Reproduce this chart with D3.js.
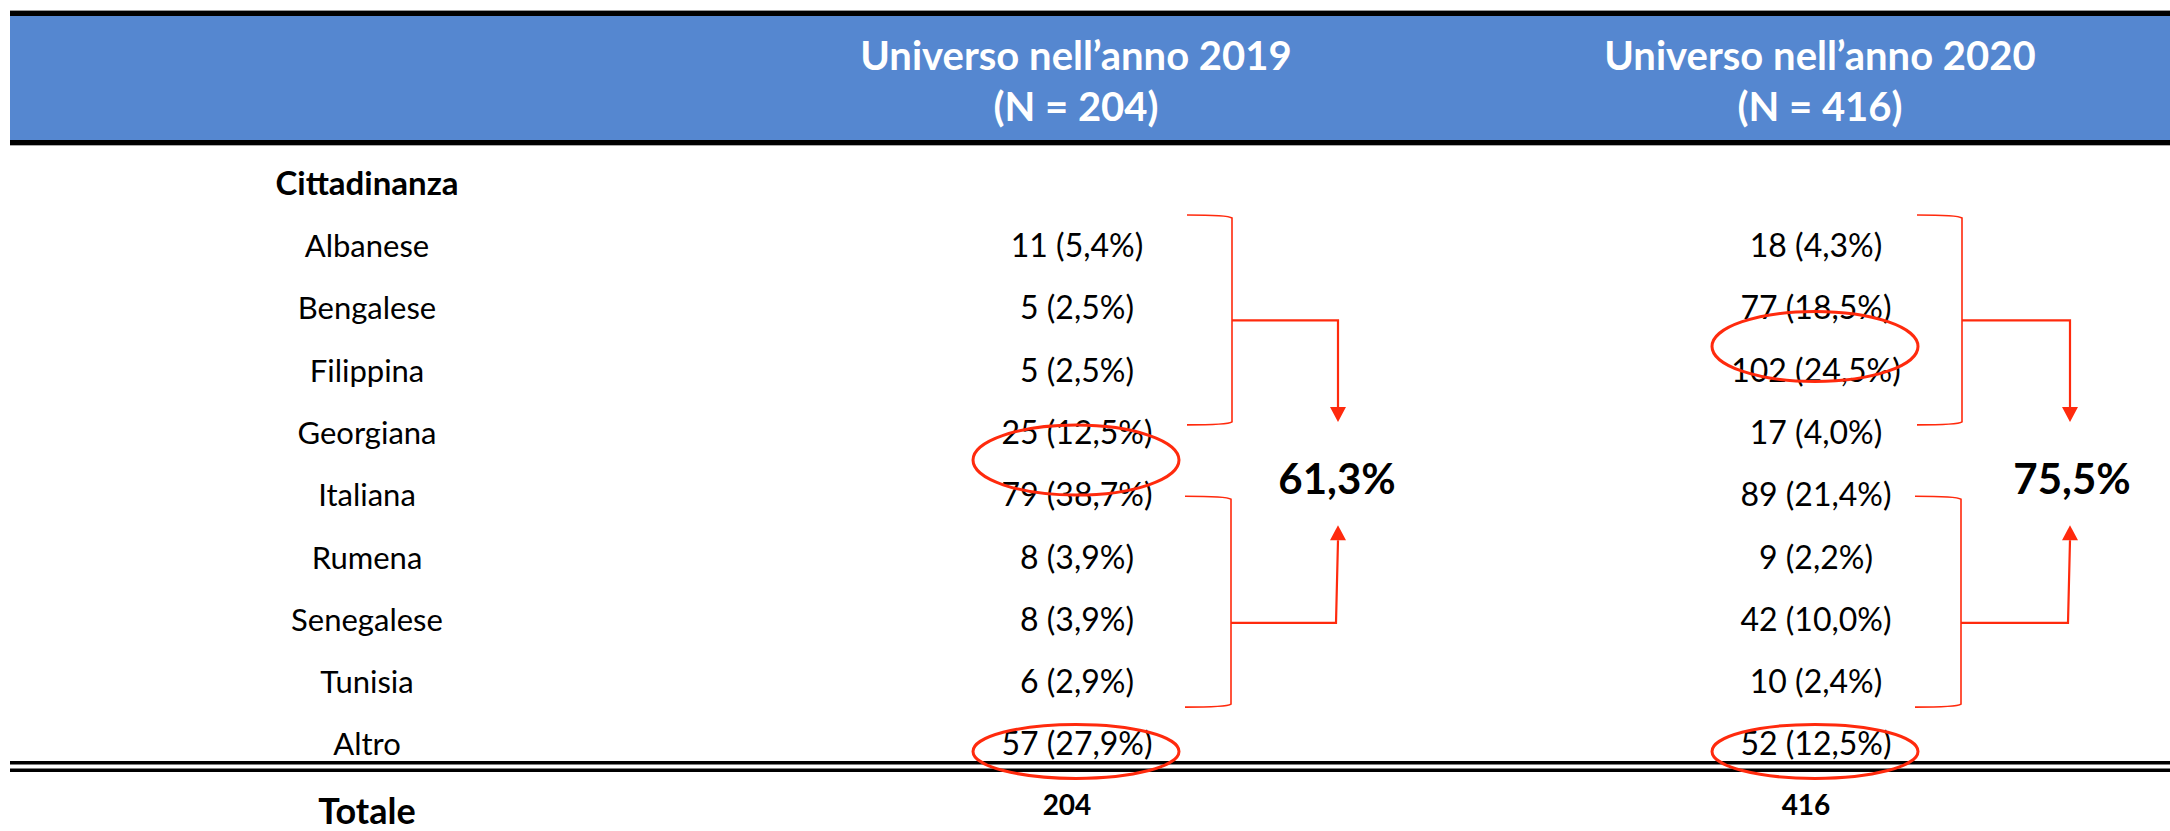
<!DOCTYPE html>
<html>
<head>
<meta charset="utf-8">
<script src="https://cdn.jsdelivr.net/npm/d3@7"></script>
<style>
  html, body { margin: 0; padding: 0; background: #fff; }
  svg { display: block; }
  text { font-family: Lato, "Open Sans", sans-serif; }
</style>
</head>
<body>
<svg id="chart" width="2170" height="831"></svg>
<script>
// ---------------- DATA ----------------
const years = ["2019", "2020"];
const headerTitles = ["Universo nell\u2019anno 2019", "Universo nell\u2019anno 2020"];
const headerN = ["(N = 204)", "(N = 416)"];
const groupTitle = "Cittadinanza";
const categories = ["Albanese", "Bengalese", "Filippina", "Georgiana", "Italiana", "Rumena", "Senegalese", "Tunisia", "Altro"];
const counts2019 = [11, 5, 5, 25, 79, 8, 8, 6, 57];
const pct2019 = ["5,4%", "2,5%", "2,5%", "12,5%", "38,7%", "3,9%", "3,9%", "2,9%", "27,9%"];
const counts2020 = [18, 77, 102, 17, 89, 9, 42, 10, 52];
const pct2020 = ["4,3%", "18,5%", "24,5%", "4,0%", "21,4%", "2,2%", "10,0%", "2,4%", "12,5%"];
const totalLabel = "Totale";
const totals = [204, 416];
const groupShares = ["61,3%", "75,5%"];
const upperGroup = ["Albanese", "Bengalese", "Filippina", "Georgiana"];
const lowerGroup = ["Italiana", "Rumena", "Senegalese", "Tunisia"];
// highlighted cells (pairs of adjacent rows circled, and single rows)
const highlights2019 = [["Georgiana", "Italiana"], ["Altro"]];
const highlights2020 = [["Bengalese", "Filippina"], ["Altro"]];

// ---------------- LAYOUT ----------------
const W = 2170, H = 831;
const RED = "#ff2a0d";
const BLUE = "#5587d0";
const svg = d3.select("#chart");

const rowY = d3.scalePoint().domain(categories).range([257, 755.4]);   // text baselines
const colX = d3.scaleOrdinal().domain(years).range([1077, 1816]);      // value column centers
const labelX = 367;

// header band
svg.append("rect").attr("x", 10).attr("y", 10).attr("width", W - 10).attr("height", 1)
  .attr("fill", "#999");
svg.append("rect").attr("x", 10).attr("y", 11).attr("width", W - 10).attr("height", 5)
  .attr("fill", "#000");
svg.append("rect").attr("x", 10).attr("y", 16).attr("width", W - 10).attr("height", 124)
  .attr("fill", BLUE);
svg.append("rect").attr("x", 10).attr("y", 140).attr("width", W - 10).attr("height", 5)
  .attr("fill", "#000");
svg.append("rect").attr("x", 10).attr("y", 145).attr("width", W - 10).attr("height", 1)
  .attr("fill", "#aaa");

const headerX = d3.scaleOrdinal().domain(years).range([1076, 1820]);
years.forEach((yr, i) => {
  svg.append("text").attr("x", headerX(yr)).attr("y", 70)
    .attr("text-anchor", "middle").attr("font-weight", 700).attr("font-size", 40)
    .attr("fill", "#fff").text(headerTitles[i]);
  svg.append("text").attr("x", headerX(yr)).attr("y", 121)
    .attr("text-anchor", "middle").attr("font-weight", 700).attr("font-size", 40)
    .attr("fill", "#fff").text(headerN[i]);
});

// row labels
svg.append("text").attr("x", labelX).attr("y", 195).attr("text-anchor", "middle")
  .attr("font-weight", 700).attr("font-size", 33).attr("fill", "#000").text(groupTitle);

svg.selectAll("text.cat").data(categories).join("text")
  .attr("class", "cat")
  .attr("x", labelX).attr("y", d => rowY(d))
  .attr("text-anchor", "middle").attr("font-size", 31).attr("fill", "#000")
  .text(d => d);

// values
const series = {
  "2019": categories.map((c, i) => ({ cat: c, text: `${counts2019[i]} (${pct2019[i]})` })),
  "2020": categories.map((c, i) => ({ cat: c, text: `${counts2020[i]} (${pct2020[i]})` }))
};
years.forEach(yr => {
  svg.selectAll(`text.v${yr}`).data(series[yr]).join("text")
    .attr("class", `v${yr}`)
    .attr("x", colX(yr)).attr("y", d => rowY(d.cat))
    .attr("text-anchor", "middle").attr("font-size", 32).attr("fill", "#000")
    .text(d => d.text);
});

// double rule
svg.append("rect").attr("x", 10).attr("y", 761).attr("width", W - 10).attr("height", 3.5).attr("fill", "#000");
svg.append("rect").attr("x", 10).attr("y", 768.5).attr("width", W - 10).attr("height", 3.5).attr("fill", "#000");

// totals
svg.append("text").attr("x", labelX).attr("y", 824).attr("text-anchor", "middle")
  .attr("font-weight", 700).attr("font-size", 36).attr("fill", "#000").text(totalLabel);
years.forEach((yr, i) => {
  svg.append("text").attr("x", colX(yr) - 10).attr("y", 815).attr("text-anchor", "middle")
    .attr("font-weight", 700).attr("font-size", 28).attr("fill", "#000").text(totals[i]);
});

// highlight ellipses (hand-drawn offsets per column)
const hl = { "2019": highlights2019, "2020": highlights2020 };
const pairOffset = { "2019": -15, "2020": -4 };
years.forEach(yr => {
  hl[yr].forEach(rows => {
    let cy, ry;
    if (rows.length === 2) {
      cy = (rowY(rows[0]) + rowY(rows[1])) / 2 + pairOffset[yr];
      ry = 35;
    } else {
      cy = rowY(rows[0]) - 4;
      ry = 27;
    }
    svg.append("ellipse").attr("cx", colX(yr) - 1).attr("cy", cy)
      .attr("rx", 103).attr("ry", ry)
      .attr("fill", "none").attr("stroke", RED).attr("stroke-width", 3);
  });
});

// brackets and arrows
const brkOff = { "2019": [110, 155, 261], "2020": [101, 146, 254] };
function bracket(x0, xv, y0, y1) {
  return `M${x0},${y0} Q${xv - 4},${y0} ${xv},${y0 + 3} L${xv},${y1 - 3} Q${xv - 4},${y1} ${x0},${y1}`;
}
function arrowHead(x, tipY, dir) { // dir +1 pointing down, -1 pointing up
  const b = tipY - dir * 15;
  return `M${x - 8},${b} L${x + 8},${b} L${x},${tipY} Z`;
}
years.forEach((yr, i) => {
  const cx = colX(yr);
  const [o0, o1, o2] = brkOff[yr];
  const x0 = cx + o0, xv = cx + o1, xa = cx + o2;
  // upper group
  const uTop = rowY(upperGroup[0]) - 42;
  const uBot = rowY(upperGroup[upperGroup.length - 1]) - 19;
  const uMid = rowY(upperGroup[1]) + 1;
  svg.append("path").attr("d", bracket(x0, xv, uTop, uBot))
    .attr("fill", "none").attr("stroke", RED).attr("stroke-width", 1.6);
  svg.append("path").attr("d", `M${xv},${uMid} L${xa},${uMid} L${xa},${uBot - 16}`)
    .attr("fill", "none").attr("stroke", RED).attr("stroke-width", 2.2);
  svg.append("path").attr("d", arrowHead(xa, uBot - 3, 1)).attr("fill", RED);
  // lower group
  const lTop = rowY(lowerGroup[0]) - 10;
  const lBot = rowY(lowerGroup[lowerGroup.length - 1]) + 14;
  const lMid = rowY(lowerGroup[2]) - 8;
  svg.append("path").attr("d", bracket(x0 - 2, xv - 1, lTop, lBot))
    .attr("fill", "none").attr("stroke", RED).attr("stroke-width", 1.6);
  svg.append("path").attr("d", `M${xv - 1},${lMid} L${xa - 2},${lMid} L${xa},${lTop + 44}`)
    .attr("fill", "none").attr("stroke", RED).attr("stroke-width", 2.2);
  svg.append("path").attr("d", arrowHead(xa, lTop + 29, -1)).attr("fill", RED);
  // share label
  svg.append("text").attr("x", xa + (i === 0 ? -1 : 2)).attr("y", 494).attr("text-anchor", "middle")
    .attr("font-weight", 700).attr("font-size", 42).attr("fill", "#000").text(groupShares[i]);
});
</script>
</body>
</html>
